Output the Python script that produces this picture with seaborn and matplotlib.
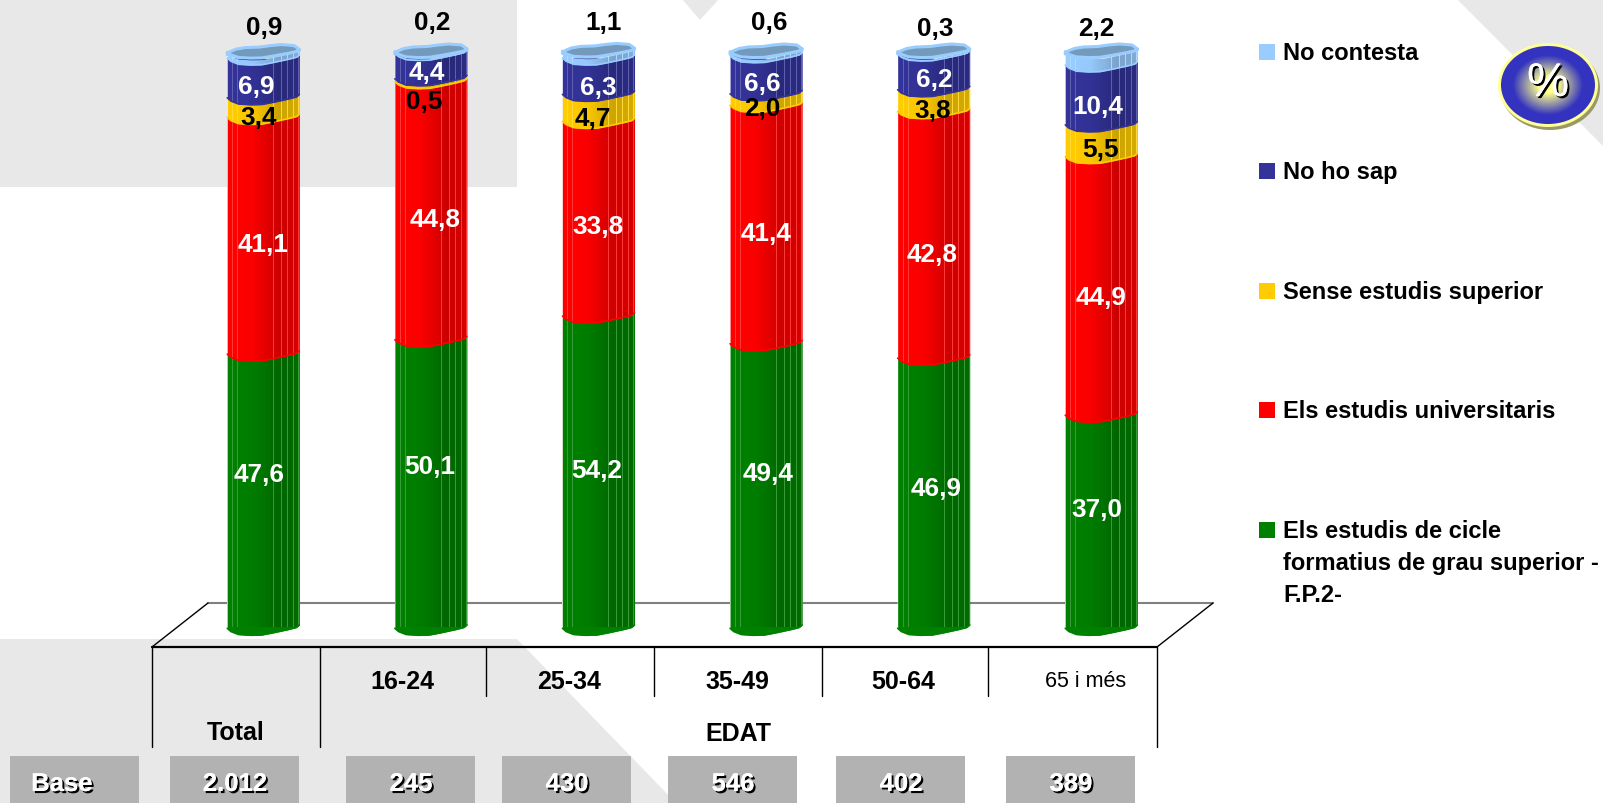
import numpy as np
import seaborn as sns
import matplotlib
matplotlib.use('Agg')
import matplotlib.pyplot as plt
import matplotlib.patheffects as pe
from matplotlib.patches import Polygon, Rectangle, Ellipse

# Data
categories = ['Total', '16-24', '25-34', '35-49', '50-64', '65 i més']
fp2 = [47.6, 50.1, 54.2, 49.4, 46.9, 37.0]
universitaris = [41.1, 44.8, 33.8, 41.4, 42.8, 44.9]
sense_estudis = [3.4, 0.5, 4.7, 2.0, 3.8, 5.5]
no_ho_sap = [6.9, 4.4, 6.3, 6.6, 6.2, 10.4]
no_contesta = [0.9, 0.2, 1.1, 0.6, 0.3, 2.2]
base_labels = ['2.012', '245', '430', '546', '402', '389']

# Legend, bottom of the stack first
series = [fp2, universitaris, sense_estudis, no_ho_sap, no_contesta]
colors = ['#008000', '#FF0000', '#FFCC00', '#333399', '#99CCFF']
text_colors = ['white', 'white', 'black', 'white', 'black']
legend_labels = ['Els estudis de cicle\nformatius de grau superior -\nF.P.2-',
                 'Els estudis universitaris', 'Sense estudis superior',
                 'No ho sap', 'No contesta']
legend_y = [531, 411, 292, 172, 53]

# Label nudges in pixels (right, down) from the middle of each segment
nudges = [
    [(-4, -17), (-1, -18), (-2, -2), (2, -13), (2, -5), (-4, -12)],
    [(0, 9), (4, 9), (-1, 8), (0, 9), (-2, 19), (0, 11)],
    [(-5, 10), (-7, 21), (-6, 10), (-4, 9), (-1, 10), (-1, 9)],
    [(-7, 8), (-4, 6), (0, 11), (-4, 9), (1, 7), (-3, 11)],
    [(1, -26), (1, -30), (5, -29), (3, -30), (2, -24), (-5, -24)],
]

sns.set_theme(style='white')
plt.rcParams['font.family'] = ['Liberation Sans', 'DejaVu Sans']

W, H = 1603, 804
fig = plt.figure(figsize=(W / 100, H / 100), dpi=100, facecolor='white')

# Background layer in pixel coordinates
bg = fig.add_axes([0, 0, 1, 1], zorder=0)
bg.set_xlim(0, W)
bg.set_ylim(H, 0)
bg.axis('off')

gray = '#E8E8E8'
bg.add_patch(Rectangle((0, 0), 517, 188, color=gray, lw=0))
bg.add_patch(Polygon([(682, 0), (719, 0), (700, 21)], color=gray, lw=0))
bg.add_patch(Polygon([(1457, 0), (W, 0), (W, 147)], color=gray, lw=0))
bg.add_patch(Polygon([(0, 640), (517, 640), (676, H), (0, H)], color=gray, lw=0))

# Floor of the chart and the table lines
bg.plot([208, 1213], [604, 604], color='#808080', lw=1.5)
bg.plot([152, 208], [648, 604], color='black', lw=1)
bg.plot([1157, 1213], [648, 604], color='black', lw=1)
bg.plot([152, 1157], [648, 648], color='black', lw=1.6)
for x in [152, 320, 1157]:
    bg.plot([x, x], [648, 748], color='black', lw=1)
for x in [486, 654, 822, 988]:
    bg.plot([x, x], [648, 697], color='black', lw=1)

bg.text(236, 733, categories[0], ha='center', va='center', fontsize=18, fontweight='bold', color='black')
for label, x in zip(categories[1:5], [402, 569, 737, 903]):
    bg.text(x, 682, label, ha='center', va='center', fontsize=18, fontweight='bold', color='black')
bg.text(1086, 682, categories[5], ha='center', va='center', fontsize=15.5, color='black')
bg.text(738, 734, 'EDAT', ha='center', va='center', fontsize=18, fontweight='bold', color='black')

# Base row
shadow = [pe.withSimplePatchShadow(offset=(1.5, -1.5), shadow_rgbFace='black', alpha=1), pe.Normal()]
box_left = [10, 170, 346, 502, 668, 836, 1006]
for left, label in zip(box_left, ['Base'] + base_labels):
    bg.add_patch(Rectangle((left, 757), 129, 47, color='#B2B2B2', lw=0))
    x = left + 52 if label == 'Base' else left + 65
    bg.text(x, 785, label, ha='center', va='center', fontsize=18.5, fontweight='bold',
            color='white', path_effects=shadow)

# Legend
for y, label, c in zip(legend_y, legend_labels, colors):
    bg.add_patch(Rectangle((1259, y - 8), 16, 16, color=c, lw=0))
    bg.text(1283, y - 10.5, label, ha='left', va='top', fontsize=17, fontweight='bold',
            color='black', linespacing=1.5)

# % badge
bx, by = 1548, 86
bg.add_patch(Ellipse((bx + 2, by + 3), 100, 84, color='#999966', lw=0))
bg.add_patch(Ellipse((bx, by), 100, 84, color='#FFFF99', lw=0))
gx, gy = np.meshgrid(np.linspace(-1, 1, 120), np.linspace(-1, 1, 120))
r = np.clip(np.sqrt(gx ** 2 + gy ** 2), 0, 1)
blue = np.array([0.2, 0.2, 0.75])
pale = np.array([1.0, 1.0, 0.55])
mix = np.clip((r - 0.2) / 0.55, 0, 1)[..., None]
im = bg.imshow(pale * (1 - mix) + blue * mix, extent=(bx - 47, bx + 47, by + 40, by - 40), aspect='auto', zorder=3)
im.set_clip_path(Ellipse((bx, by), 94, 78, transform=bg.transData))
bg.set_xlim(0, W)
bg.set_ylim(H, 0)
bg.text(bx, by - 1, '%', ha='center', va='center', fontsize=34, color='white', zorder=4,
        path_effects=[pe.withSimplePatchShadow(offset=(1.5, -1.5), shadow_rgbFace='black', alpha=1), pe.Normal()])

# Bars: y=0 sits at pixel 628 and 100 at pixel 52
y0_px, y100_px = 628, 52
slot = 167.6
first_center = 263.3
left_px = first_center - slot / 2
ax = fig.add_axes([left_px / W, (H - y0_px) / H, 6 * slot / W, (y0_px - y100_px) / H], zorder=1)
ax.patch.set_alpha(0)

cum = np.cumsum(np.array(series), axis=0)
bar_w = 0.43
for k in range(len(series) - 1, -1, -1):
    sns.barplot(x=categories, y=cum[k], color=colors[k], saturation=1, width=bar_w, ax=ax, legend=False)

ax.set_xlim(-0.5, 5.5)
ax.set_ylim(0, 100)
ax.axis('off')
px = 100 / (y0_px - y100_px)

# Wobbly outline of the cylinder, in pixels below the chord
u = np.linspace(-1, 1, 81)
front = np.interp(u, [-1, -0.9, -0.69, -0.35, -0.04, 0.29, 0.7, 0.92, 1],
                  [1.3, 4.5, 7.5, 8.3, 8, 5.7, 2.5, 0.5, -2])
back = np.interp(u, [-1, -0.92, -0.75, -0.5, -0.1, 0.2, 0.5, 0.85, 0.97, 1],
                 [3, 0, -2.5, -4, -4.5, -6, -7, -6, -3, -1])
cap_front = front * 0.85 - 0.5

# Shading across the bar with thin light facet lines
shade = np.zeros((1, 72, 4))
shade[0, :, 3] = np.interp(np.arange(72), [0, 25, 50, 71], [0, 0.02, 0.2, 0.16])
for pos in [5, 10, 45, 53, 59, 65, 70]:
    shade[0, pos] = [1, 1, 1, 0.22]

for i in range(len(categories)):
    xs = i + u * bar_w / 2
    top_curve = cum[-1, i] - front * px
    bottom_curve = -front * px
    outline = np.column_stack([np.r_[xs, xs[::-1]], np.r_[bottom_curve, top_curve[::-1]]])
    clip = Polygon(outline, transform=ax.transData)

    for k in range(len(series)):
        low = cum[k - 1, i] if k else 0
        ax.fill_between(xs, low - front * px, cum[k, i] - front * px, color=colors[k], lw=0, zorder=3, clip_on=False)

    im = ax.imshow(shade, extent=(i - bar_w / 2, i + bar_w / 2, -5, 105), aspect='auto', zorder=4, interpolation='nearest')
    im.set_clip_path(clip)

    for k in range(len(series)):
        low = cum[k - 1, i] if k else 0
        ax.plot(xs, low - front * px, color=colors[k], lw=1.2, zorder=5, clip_on=False)

    # Open top of the cylinder
    cap = np.column_stack([np.r_[xs, xs[::-1]],
                           np.r_[cum[-1, i] - back * px, (cum[-1, i] - cap_front * px)[::-1]]])
    ax.add_patch(Polygon(cap, closed=True, facecolor='#7399BB', edgecolor=colors[-1], lw=2.2,
                         joinstyle='round', zorder=6, clip_on=False))

# Bar patches only serve as the base colour, keep them inside the outline
for n, patch in enumerate(ax.patches):
    if isinstance(patch, Rectangle):
        patch.set_clip_path(Polygon(
            np.column_stack([np.r_[u, u[::-1]] * bar_w / 2 + round(patch.get_x() + bar_w / 2),
                             np.r_[-front * px, 100 - front * px]]), transform=ax.transData))

ax.set_xlim(-0.5, 5.5)
ax.set_ylim(0, 100)

# Value labels
for k, vals in enumerate(series):
    for i, v in enumerate(vals):
        low = cum[k - 1, i] if k else 0
        y = cum[k, i] if k == len(series) - 1 else low + v / 2
        dx, dy = nudges[k][i]
        ax.annotate(f'{v:.1f}'.replace('.', ','), xy=(i, y), xytext=(dx, -dy - 1), textcoords='offset pixels',
                    ha='center', va='center', fontsize=18.8, fontweight='bold', color=text_colors[k],
                    zorder=8, annotation_clip=False)

fig.savefig('out.png', dpi=100)
